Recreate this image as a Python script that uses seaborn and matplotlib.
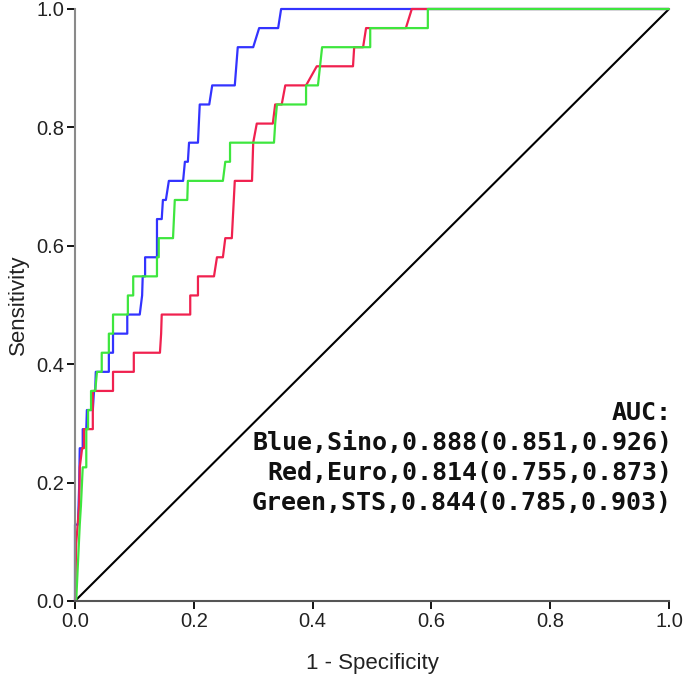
import numpy as np
import pandas as pd
import matplotlib
matplotlib.use("Agg")
import matplotlib.pyplot as plt
import seaborn as sns

# ROC vertices: false positive rate and number of
# positive cases detected (31 positives in total)
N_POS = 31

blue_fpr = [0.000, 0.000, 0.005, 0.007, 0.008, 0.013, 0.013, 0.019, 0.020, 0.030,
            0.032, 0.034, 0.035, 0.057, 0.057, 0.064, 0.064, 0.088, 0.088, 0.109,
            0.113, 0.114, 0.118, 0.118, 0.138, 0.138, 0.146, 0.148, 0.153, 0.158,
            0.182, 0.185, 0.190, 0.192, 0.207, 0.210, 0.226, 0.231, 0.269, 0.274,
            0.300, 0.310, 0.342, 0.347, 1.000]
blue_hits = [0, 4, 4, 6, 8, 8, 9, 9, 10, 10,
             11, 11, 12, 12, 13, 13, 14, 14, 15, 15,
             16, 17, 17, 18, 18, 20, 20, 21, 21, 22,
             22, 23, 23, 24, 24, 26, 26, 27, 27, 29,
             29, 30, 30, 31, 31]

red_fpr = [0.000, 0.002, 0.007, 0.008, 0.012, 0.015, 0.015, 0.030, 0.030, 0.064,
           0.064, 0.099, 0.099, 0.143, 0.145, 0.146, 0.194, 0.194, 0.207, 0.207,
           0.234, 0.239, 0.249, 0.253, 0.264, 0.269, 0.298, 0.300, 0.306, 0.333,
           0.337, 0.348, 0.354, 0.389, 0.407, 0.468, 0.470, 0.485, 0.490, 0.557,
           0.567, 1.000]
red_hits = [0, 3, 5, 7, 8, 8, 9, 9, 11, 11,
            12, 12, 13, 13, 14, 15, 15, 16, 16, 17,
            17, 18, 18, 19, 19, 22, 22, 24, 25, 25,
            26, 26, 27, 27, 28, 28, 29, 29, 30, 30,
            31, 31]

green_fpr = [0.002, 0.005, 0.008, 0.010, 0.013, 0.019, 0.019, 0.022, 0.022, 0.027,
             0.027, 0.034, 0.037, 0.045, 0.045, 0.057, 0.057, 0.064, 0.064, 0.089,
             0.089, 0.098, 0.098, 0.138, 0.138, 0.141, 0.141, 0.165, 0.168, 0.189,
             0.190, 0.249, 0.253, 0.261, 0.261, 0.335, 0.337, 0.340, 0.389, 0.389,
             0.409, 0.416, 0.497, 0.497, 0.594, 0.594, 1.000]
green_hits = [0, 2, 4, 5, 7, 7, 9, 9, 10, 10,
              11, 11, 12, 12, 13, 13, 14, 14, 15, 15,
              16, 16, 17, 17, 18, 18, 19, 19, 21, 21,
              22, 22, 23, 23, 24, 24, 25, 26, 26, 27,
              27, 29, 29, 30, 30, 31, 31]

curve_names = ["Blue", "Red", "Green"]
curve_colors = ["#3333ff", "#f0214f", "#3ee63e"]

auc_lines = ["AUC:",
             "Blue,Sino,0.888(0.851,0.926)",
             "Red,Euro,0.814(0.755,0.873)",
             "Green,STS,0.844(0.785,0.903)"]

x_ticks = [0.0, 0.2, 0.4, 0.6, 0.8, 1.0]
y_ticks = [0.0, 0.2, 0.4, 0.6, 0.8, 1.0]

frames = []
for name, fpr, hits in zip(curve_names,
                           [blue_fpr, red_fpr, green_fpr],
                           [blue_hits, red_hits, green_hits]):
    frames.append(pd.DataFrame({"fpr": fpr,
                                "tpr": np.array(hits) / N_POS,
                                "curve": name}))
df = pd.concat(frames, ignore_index=True)

sns.set_theme(style="white")
plt.rcParams["font.family"] = ["Liberation Sans", "DejaVu Sans"]

fig = plt.figure(figsize=(6.85, 6.79), dpi=100)
ax = fig.add_axes([75 / 685, 1 - 601 / 679, 594 / 685, 592 / 679])

# chance diagonal
ax.plot([0, 1], [0, 1], color="black", lw=1.5, zorder=1)
sns.lineplot(data=df, x="fpr", y="tpr", hue="curve", hue_order=curve_names,
             palette=curve_colors, sort=False, estimator=None, units="curve",
             lw=1.6, legend=False, ax=ax, zorder=2)
for line in ax.get_lines():
    line.set_clip_on(False)

ax.set_xlim(0, 1)
ax.set_ylim(0, 1)
ax.set_xticks(x_ticks)
ax.set_yticks(y_ticks)
ax.set_xticklabels([f"{t:.1f}" for t in x_ticks])
ax.set_yticklabels([f"{t:.1f}" for t in y_ticks])
ax.tick_params(direction="out", length=6, width=1.3, color="black",
               labelsize=14.5, labelcolor="#222222", pad=2,
               bottom=True, left=True)
ax.set_xlabel("1 - Specificity", fontsize=16, color="#222222", labelpad=16)
ax.set_ylabel("Sensitivity", fontsize=16, color="#222222", labelpad=5)

for side in ["top", "right"]:
    ax.spines[side].set_visible(False)
ax.spines["left"].set_color("#8a8a8a")
ax.spines["bottom"].set_color("#555555")
ax.spines["left"].set_linewidth(1.5)
ax.spines["bottom"].set_linewidth(1.5)

for i, txt in enumerate(auc_lines):
    fig.text(672 / 685, 1 - (420 + 30 * i) / 679, txt, ha="right", va="baseline",
             fontsize=18, fontweight="bold", family="DejaVu Sans Mono",
             color="#111111")

fig.savefig("out.png", dpi=100)
